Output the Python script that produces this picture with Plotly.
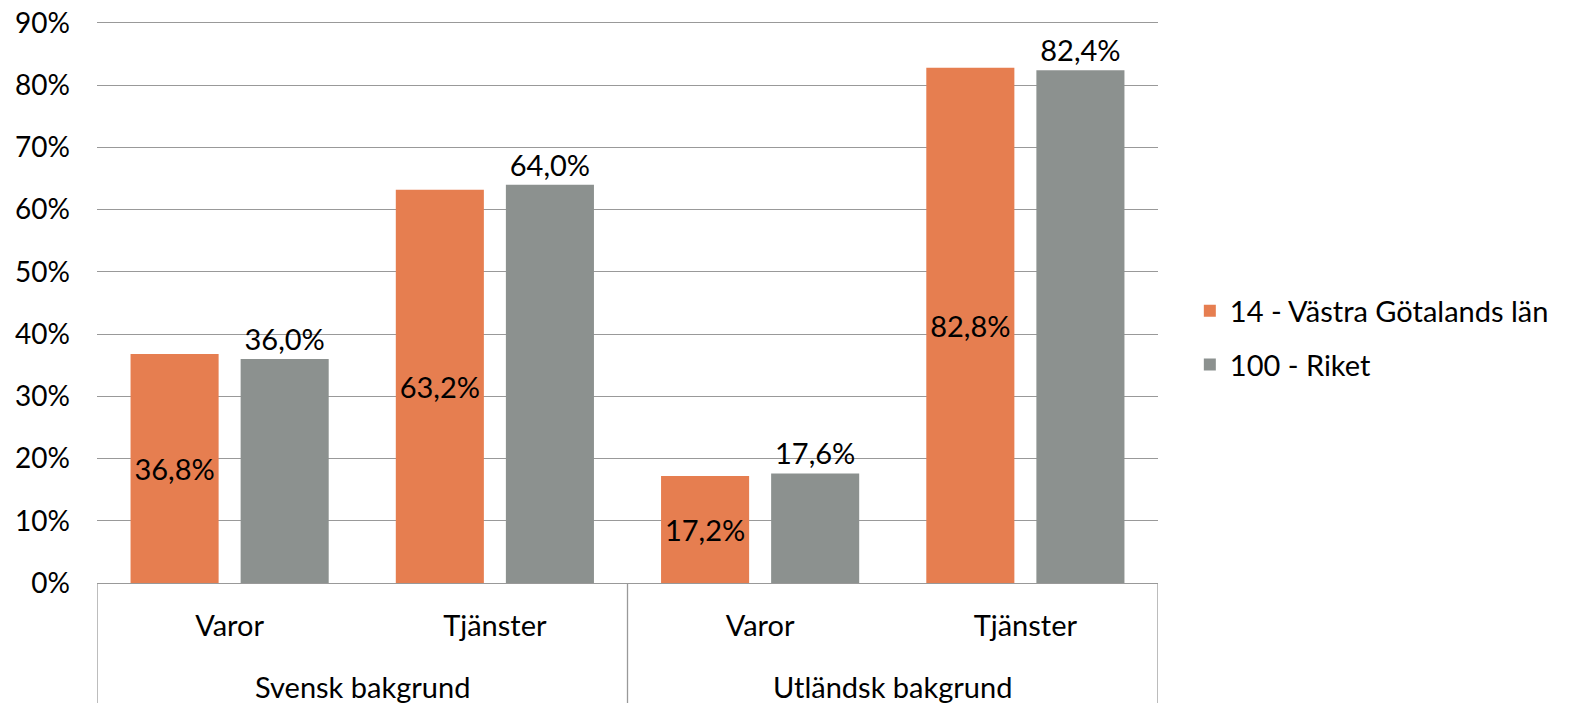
import plotly.graph_objects as go

# Data.
groups = ["Svensk bakgrund", "Utländsk bakgrund"]
kinds = ["Varor", "Tjänster", "Varor", "Tjänster"]
vastra_gotaland = [0.368, 0.632, 0.172, 0.828]
riket = [0.360, 0.640, 0.176, 0.824]
y_ticks = [0, 0.1, 0.2, 0.3, 0.4, 0.5, 0.6, 0.7, 0.8, 0.9]

c_orange = "#E67E50"
c_gray = "#8C918F"
c_grid = "#999999"
family = "Lato, 'Open Sans', sans-serif"
font = dict(family=family, size=29, color="#000000")
tick_font = dict(family=family, size=28, color="#000000")

xpos = list(range(len(kinds)))
per_group = len(kinds) // len(groups)

fig = go.Figure()
fig.add_trace(go.Bar(
    x=xpos, y=vastra_gotaland, name="14 - Västra Götalands län",
    marker=dict(color=c_orange, line=dict(width=0)),
    texttemplate="%{y:.1%}", textposition="inside", insidetextanchor="middle",
    textfont=font, legendgroup="a",
))
fig.add_trace(go.Bar(
    x=xpos, y=riket, name="100 - Riket",
    marker=dict(color=c_gray, line=dict(width=0)),
    texttemplate="%{y:.1%}", textposition="outside",
    textfont=font, cliponaxis=False, legendgroup="b",
))

# Group labels and the divider lines of the two-level category axis.
for i, g in enumerate(groups):
    fig.add_annotation(
        x=(i + 0.5) * per_group - 0.5, y=-103 / 562, xref="x", yref="paper",
        text=g, showarrow=False, font=font, yanchor="middle",
    )
for i in range(len(groups) + 1):
    xd = i * per_group - 0.5
    fig.add_shape(
        type="line", xref="x", yref="paper", x0=xd, x1=xd, y0=0, y1=-0.215,
        line=dict(color=c_grid, width=1.3),
    )

fig.update_yaxes(
    range=[0, 0.9032], tickvals=y_ticks, tickformat=".0%",
    showgrid=True, gridcolor=c_grid, gridwidth=1.3,
    zeroline=False, ticks="", ticklabelstandoff=26,
    tickfont=tick_font, showline=False, automargin=False,
)
fig.update_xaxes(
    range=[-0.5, len(kinds) - 0.5], tickvals=xpos, ticktext=kinds,
    showline=True, linecolor=c_grid, linewidth=1.3, showgrid=False,
    tickfont=font, ticks="", ticklabelstandoff=17, automargin=False,
)
fig.update_layout(
    width=1571, height=703,
    margin=dict(l=97, r=413, t=21, b=120, autoexpand=False),
    plot_bgcolor="white", paper_bgcolor="white",
    separators=",.",
    barmode="group", bargap=0.17, bargroupgap=0.2,
    font=font,
    legend=dict(
        x=1.03, xanchor="left", y=0.436, yanchor="middle",
        font=font, traceorder="grouped", tracegroupgap=13,
        itemwidth=30,
    ),
)

# Drop the default page margin so the figure sits at the window's corner.
fig.write_html(
    "out.html",
    config={"displayModeBar": False},
    post_script="document.body.style.margin = '0';",
)
